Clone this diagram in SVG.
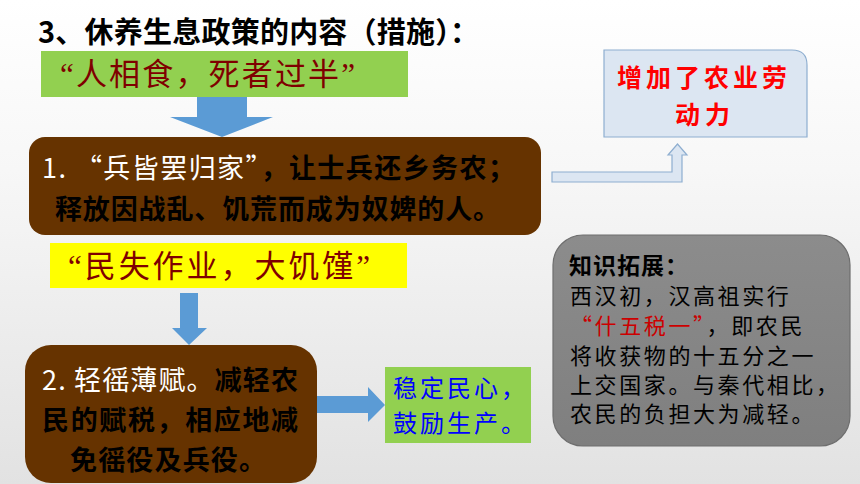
<svg xmlns="http://www.w3.org/2000/svg" width="860" height="484" viewBox="0 0 860 484">
<defs>
<linearGradient id="bg" x1="0" y1="0" x2="0" y2="1">
<stop offset="0" stop-color="#ffffff"/>
<stop offset="0.35" stop-color="#f7f7f7"/>
<stop offset="1" stop-color="#e2e2e2"/>
</linearGradient>
<linearGradient id="gray" x1="0" y1="0" x2="0" y2="1">
<stop offset="0" stop-color="#8c8c8c"/>
<stop offset="1" stop-color="#7f7f7f"/>
</linearGradient>
<style>
.sans{font-family:"Noto Sans CJK SC","Liberation Sans",sans-serif}
.serif{font-family:"Liberation Serif","Noto Sans CJK SC",serif}
.quote{fill:#7f0000;font-size:31px}
.brown{fill:#663300}
.white{fill:#ffffff;font-weight:normal}
.black{fill:#000000;font-weight:bold}
.blue{fill:#5b9bd5}
.lb{fill:#dce6f2;stroke:#8eaed0;stroke-width:1.2}
.kb{font-size:22px;letter-spacing:2.6px;fill:#000}
.red{font-size:25px;font-weight:bold;fill:#ff0000;letter-spacing:3px}
.res{font-size:24px;fill:#0000ff;letter-spacing:3px}
</style>
</defs>
<rect x="0" y="0" width="860" height="484" fill="url(#bg)"/>

<g id="title">
<text class="sans" x="38" y="43" font-size="29" font-weight="bold" fill="#000" textLength="441" lengthAdjust="spacing">3、休养生息政策的内容（措施）：</text>
</g>

<g id="connectors">
<polygon class="blue" points="197,97 247,97 247,117 273,117 222,137 170,117 197,117"/>
<polygon class="blue" points="180,293 198,293 198,328 207,328 189,345 172,328 180,328"/>
<polygon class="blue" points="317,396 368,396 368,387 385,405 368,422 368,413 317,413"/>
<polygon class="lb" points="552,172 672,172 672,155 668,155 677.5,144 687,155 682,155 682,182 552,182"/>
</g>

<g id="node-famine1">
<rect x="41" y="51" width="367" height="46" fill="#92d050"/>
<text class="serif quote" x="60" y="85" textLength="295" lengthAdjust="spacing">“人相食，死者过半”</text>
</g>

<g id="node-labor">
<path class="lb" d="M604,50 H792 Q807,50 807,65 V137 H604 Z"/>
<text class="sans red" x="617" y="87" textLength="173" lengthAdjust="spacing">增加了农业劳</text>
<text class="sans red" x="675" y="123.5" textLength="58" lengthAdjust="spacing">动力</text>
</g>

<g id="node-measure1">
<rect class="brown" x="29" y="137" width="512" height="98" rx="16"/>
<text class="sans" x="42" y="178" font-size="27" textLength="473" lengthAdjust="spacing"><tspan class="white">1. “兵皆罢归家”</tspan><tspan class="black">，让士兵还乡务农；</tspan></text>
<text class="sans black" x="55" y="219" font-size="27" textLength="445" lengthAdjust="spacing">释放因战乱、饥荒而成为奴婢的人。</text>
</g>

<g id="node-famine2">
<rect x="50" y="243" width="357" height="45" fill="#ffff00"/>
<text class="serif quote" x="68" y="277" textLength="302" lengthAdjust="spacing">“民失作业，大饥馑”</text>
</g>

<g id="node-measure2">
<rect class="brown" x="25" y="345" width="292" height="138" rx="26"/>
<text class="sans" x="42" y="390" font-size="27" textLength="256" lengthAdjust="spacing"><tspan class="white">2. 轻徭薄赋。</tspan><tspan class="black">减轻农</tspan></text>
<text class="sans black" x="42" y="430" font-size="27" textLength="256" lengthAdjust="spacing">民的赋税，相应地减</text>
<text class="sans black" x="70" y="470" font-size="27" textLength="196" lengthAdjust="spacing">免徭役及兵役。</text>
</g>

<g id="node-result">
<rect x="385" y="367" width="146" height="76" fill="#92d050"/>
<text class="sans res" x="393" y="397" textLength="135" lengthAdjust="spacing">稳定民心，</text>
<text class="sans res" x="393" y="432" textLength="135" lengthAdjust="spacing">鼓励生产。</text>
</g>

<g id="node-knowledge">
<rect x="553" y="235" width="297" height="211" rx="30" fill="url(#gray)" stroke="#6e6e6e" stroke-width="1.2"/>
<text class="sans" x="569" y="274" font-size="23" font-weight="bold" fill="#000" letter-spacing="1">知识拓展：</text>
<text class="sans kb" x="570" y="304">西汉初，汉高祖实行</text>
<text class="sans kb" x="570" y="334"><tspan fill="#cc0000">“什五税一”</tspan>，即农民</text>
<text class="sans kb" x="570" y="364">将收获物的十五分之一</text>
<text class="sans kb" x="570" y="393">上交国家。与秦代相比，</text>
<text class="sans kb" x="570" y="422">农民的负担大为减轻。</text>
</g>
</svg>
